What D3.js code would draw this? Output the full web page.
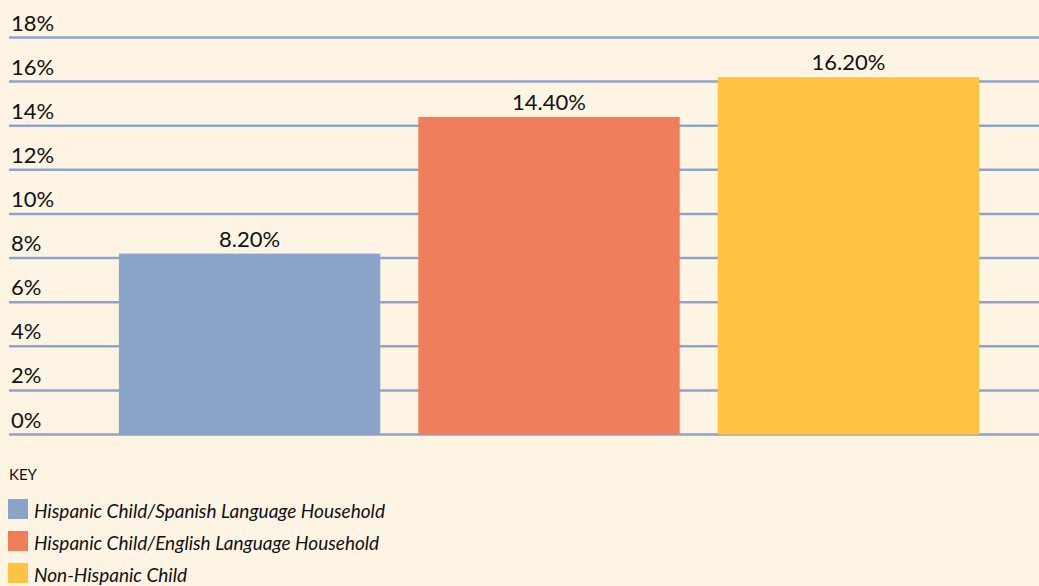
<!DOCTYPE html>
<html lang="en">
<head>
<meta charset="UTF-8">
<title>Hispanic child chart</title>
<script src="https://d3js.org/d3.v7.min.js"></script>
<style>
    body { margin: 0; background: #fdf4e4; }
    svg { display: block; font-family: Lato, "Open Sans", sans-serif; }
</style>
</head>
<body>
<script>
    // chart data
    const categories = [
        "Hispanic Child/Spanish Language Household",
        "Hispanic Child/English Language Household",
        "Non-Hispanic Child"
    ];
    const values = [8.2, 14.4, 16.2];
    const ticks = [0, 2, 4, 6, 8, 10, 12, 14, 16, 18];
    const colors = ["#8aa3c8", "#ef7f5c", "#fec342"];

    const width = 1039, height = 586;

    const svg = d3.select("body").append("svg")
        .attr("width", width)
        .attr("height", height);

    svg.append("rect").attr("width", width).attr("height", height).attr("fill", "#fdf4e4");

    // scales
    const y = d3.scaleLinear().domain([0, 18]).range([434.5, 37.5]);
    const x = d3.scaleBand().domain(categories).range([68, 1030]).paddingInner(0.127).paddingOuter(0.17);

    // gridlines + labels
    const grid = svg.append("g");
    grid.selectAll("line")
        .data(ticks)
        .join("line")
        .attr("x1", 9)
        .attr("x2", width)
        .attr("y1", d => y(d))
        .attr("y2", d => y(d))
        .attr("stroke", "#8ea4c9")
        .attr("stroke-width", 2.5);

    grid.selectAll("text")
        .data(ticks)
        .join("text")
        .attr("x", 11)
        .attr("y", d => y(d) - 7)
        .attr("font-size", 22)
        .attr("fill", "#111")
        .text(d => d + "%");

    // bars
    svg.append("g")
        .selectAll("rect")
        .data(values)
        .join("rect")
        .attr("x", (d, i) => x(categories[i]))
        .attr("y", d => y(d))
        .attr("width", x.bandwidth())
        .attr("height", d => y(0) - y(d))
        .attr("fill", (d, i) => colors[i]);

    // value labels
    svg.append("g")
        .selectAll("text")
        .data(values)
        .join("text")
        .attr("x", (d, i) => x(categories[i]) + x.bandwidth() / 2)
        .attr("y", d => y(d) - 7)
        .attr("text-anchor", "middle")
        .attr("font-size", 22)
        .attr("fill", "#111")
        .text(d => d.toFixed(2) + "%");

    // legend
    const legend = svg.append("g");
    legend.append("text")
        .attr("x", 9)
        .attr("y", 480)
        .attr("font-size", 15)
        .attr("fill", "#111")
        .text("KEY");

    const items = legend.selectAll("g")
        .data(categories)
        .join("g")
        .attr("transform", (d, i) => `translate(8,${499 + i * 32})`);

    items.append("rect")
        .attr("width", 20)
        .attr("height", 20)
        .attr("fill", (d, i) => colors[i]);

    items.append("text")
        .attr("x", 26)
        .attr("y", 19)
        .attr("font-size", 19)
        .attr("font-style", "italic")
        .attr("fill", "#111")
        .text(d => d);
</script>
</body>
</html>
